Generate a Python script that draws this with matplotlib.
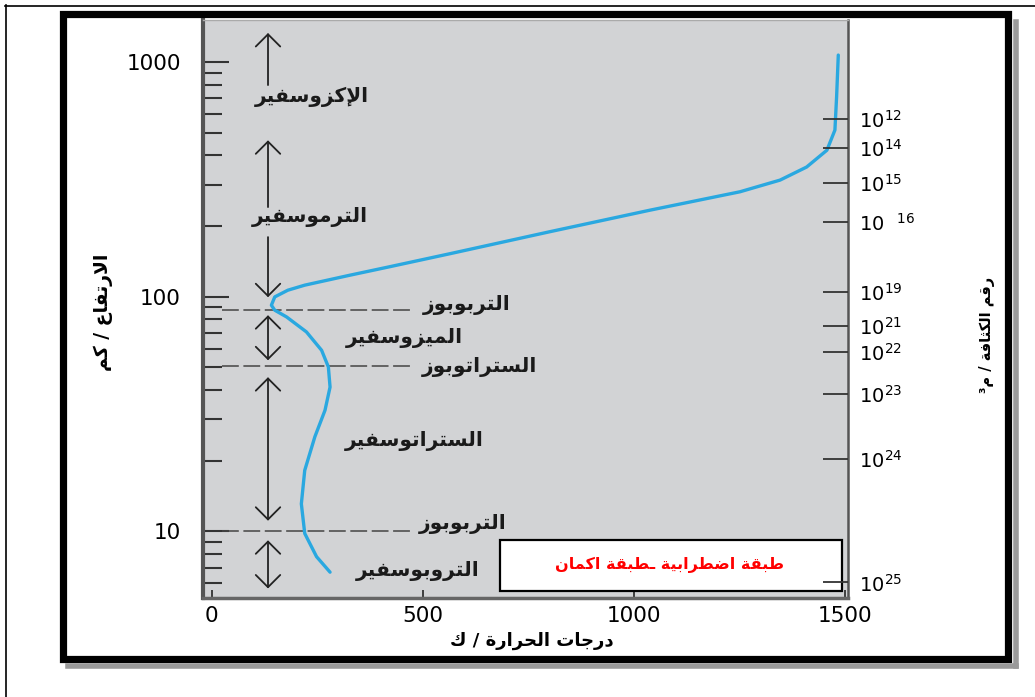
import matplotlib
matplotlib.use("Agg")
import matplotlib.pyplot as plt
from matplotlib.patches import Rectangle
from matplotlib.lines import Line2D
from matplotlib.ticker import NullLocator, FixedLocator

plt.rcParams['font.family'] = ['DejaVu Sans']

# temperature profile (K) vs altitude (km)
alt_km = [6.7, 7.8, 9.8, 13.1, 18.2, 25.3, 32.8, 41.2, 50.2, 59.1, 70.8, 82, 87.6, 92,
          99.8, 106.6, 112, 123.5, 134.3, 152.5, 189.3, 233.8, 280, 314, 357, 421, 513,
          711, 1071]
temp_k = [280, 248, 220, 212, 220, 244, 268, 280, 276, 260, 224, 177, 149, 141,
          149, 180, 220, 327, 422, 564, 801, 1038, 1251, 1346, 1409, 1457, 1476,
          1480, 1484]

# number density scale on the right (altitude where each tick sits)
density_alt = [570, 430, 305, 208, 105, 75, 58, 38.4, 20.3, 6.06]
density_lbl = [r'$10^{12}$', r'$10^{14}$', r'$10^{15}$', r'$10\ \ ^{16}$', r'$10^{19}$',
               r'$10^{21}$', r'$10^{22}$', r'$10^{23}$', r'$10^{24}$', r'$10^{25}$']

# layer boundaries (km) and names
pause_alt = [87.6, 50.5, 10]
pause_names = ['التربوبوز', 'الستراتوبوز', 'التربوبوز']
layer_names = ['الإكزوسفير', 'الترموسفير', 'الميزوسفير', 'الستراتوسفير', 'التروبوسفير']

box_text = 'طبقة اضطرابية ـطبقة اكمان'
xlabel = 'درجات الحرارة / ك'
ylabel = 'الارتفاع / كم'
rlabel = 'رقم الكثافة / م³'

# --- tiny arabic shaper (no bidi lib available) ---
FORMS = {
    'ا': ('\uFE8D', '\uFE8E', None, None), 'إ': ('\uFE87', '\uFE88', None, None),
    'ب': ('\uFE8F', '\uFE90', '\uFE91', '\uFE92'), 'ة': ('\uFE93', '\uFE94', None, None),
    'ت': ('\uFE95', '\uFE96', '\uFE97', '\uFE98'), 'ث': ('\uFE99', '\uFE9A', '\uFE9B', '\uFE9C'),
    'ج': ('\uFE9D', '\uFE9E', '\uFE9F', '\uFEA0'), 'ح': ('\uFEA1', '\uFEA2', '\uFEA3', '\uFEA4'),
    'د': ('\uFEA9', '\uFEAA', None, None), 'ر': ('\uFEAD', '\uFEAE', None, None),
    'ز': ('\uFEAF', '\uFEB0', None, None), 'س': ('\uFEB1', '\uFEB2', '\uFEB3', '\uFEB4'),
    'ض': ('\uFEBD', '\uFEBE', '\uFEBF', '\uFEC0'), 'ط': ('\uFEC1', '\uFEC2', '\uFEC3', '\uFEC4'),
    'ع': ('\uFEC9', '\uFECA', '\uFECB', '\uFECC'), 'ف': ('\uFED1', '\uFED2', '\uFED3', '\uFED4'),
    'ق': ('\uFED5', '\uFED6', '\uFED7', '\uFED8'), 'ك': ('\uFED9', '\uFEDA', '\uFEDB', '\uFEDC'),
    'ل': ('\uFEDD', '\uFEDE', '\uFEDF', '\uFEE0'), 'م': ('\uFEE1', '\uFEE2', '\uFEE3', '\uFEE4'),
    'ن': ('\uFEE5', '\uFEE6', '\uFEE7', '\uFEE8'), 'و': ('\uFEED', '\uFEEE', None, None),
    'ي': ('\uFEF1', '\uFEF2', '\uFEF3', '\uFEF4'), 'ـ': ('\u0640', '\u0640', '\u0640', '\u0640'),
}
LAM_ALEF = {'ا': ('\uFEFB', '\uFEFC'), 'إ': ('\uFEF9', '\uFEFA')}


def shape(s):
    units = []
    i = 0
    while i < len(s):
        if s[i] == 'ل' and i + 1 < len(s) and s[i + 1] in LAM_ALEF:
            units.append(('LA', s[i + 1]))
            i += 2
        else:
            units.append(('C', s[i]))
            i += 1

    def is_ar(u):
        return u[0] == 'LA' or u[1] in FORMS

    def joins_next(u):
        return u[0] == 'C' and u[1] in FORMS and FORMS[u[1]][2] is not None

    out = []
    for k, u in enumerate(units):
        prev = units[k - 1] if k > 0 else None
        nxt = units[k + 1] if k + 1 < len(units) else None
        jp = prev is not None and joins_next(prev) and is_ar(u)
        if u[0] == 'LA':
            out.append(LAM_ALEF[u[1]][1] if jp else LAM_ALEF[u[1]][0])
            continue
        c = u[1]
        if c not in FORMS:
            out.append(c)
            continue
        iso, fin, ini, med = FORMS[c]
        jn = ini is not None and nxt is not None and is_ar(nxt)
        out.append(med if (jp and jn) else fin if jp else ini if jn else iso)
    return ''.join(reversed(out))


W, H = 1035, 697
fig = plt.figure(figsize=(W / 100, H / 100), dpi=100)
fig.patch.set_facecolor('white')


def fx(px):
    return px / W


def fy(py):
    return 1 - py / H


ax = fig.add_axes([fx(203), fy(598), fx(848) - fx(203), fy(20) - fy(598)])
ax.set_facecolor('#d2d3d5')
ax.set_yscale('log')
ax.set_xlim(-21, 1507)
ax.set_ylim(5.2, 1511)

ax.plot(temp_k, alt_km, color='#2aa8e0', lw=2.4, solid_capstyle='round',
        solid_joinstyle='round', zorder=4)

# boundaries
for a in pause_alt:
    ax.plot([25, 470], [a, a], color='#444444', lw=1.1, dashes=(11, 3), zorder=2)

TX = 133
kw = dict(arrowstyle='->,head_length=0.4,head_width=0.4', color='#222222', lw=1.3,
          mutation_scale=22, shrinkA=0, shrinkB=0)
kw2 = dict(kw, arrowstyle='<->,head_length=0.4,head_width=0.4')
ax.annotate('', xy=(TX, 1330), xytext=(TX, 798), arrowprops=kw)
ax.annotate('', xy=(TX, 464), xytext=(TX, 241), arrowprops=kw)
ax.annotate('', xy=(TX, 99.5), xytext=(TX, 179.5), arrowprops=kw)
ax.annotate('', xy=(TX, 83.4), xytext=(TX, 53.6), arrowprops=kw2)
ax.annotate('', xy=(TX, 45.4), xytext=(TX, 11.1), arrowprops=kw2)
ax.annotate('', xy=(TX, 9.16), xytext=(TX, 5.71), arrowprops=kw2)

tkw = dict(fontsize=14.5, fontweight='bold', color='#1a1a1a', ha='center', va='center', zorder=5)
layer_pos = [(237, 710), (232, 218), (457, 67), (479, 24.2), (488, 6.75)]
for name, (t, a) in zip(layer_names, layer_pos):
    ax.text(t, a, shape(name), **tkw)
pause_pos = [(604, 92), (635, 50), (595, 10.8)]
for name, (t, a) in zip(pause_names, pause_pos):
    ax.text(t, a, shape(name), **tkw)

# red note box
ax.add_patch(Rectangle((0.4605, 0.012), 0.530, 0.088, transform=ax.transAxes,
                       facecolor='white', edgecolor='black', lw=1.6, zorder=6))
ax.text(0.724, 0.058, shape(box_text), transform=ax.transAxes, color='red',
        fontsize=11.5, fontweight='bold', ha='center', va='center', zorder=7)

# axes styling
for side, c, w in [('left', '#555555', 3), ('bottom', '#666666', 2.5),
                   ('right', '#555555', 1.8), ('top', '#aaaaaa', 1)]:
    ax.spines[side].set_color(c)
    ax.spines[side].set_linewidth(w)

ax.set_xticks([0, 500, 1000, 1500])
ax.set_xticklabels(['0', '500', '1000', '1500'])
ax.set_yticks([10, 100, 1000])
ax.set_yticklabels(['10', '100', '1000'])
ax.tick_params(axis='y', which='major', direction='in', length=19, width=1.5,
               color='#333333', labelsize=15.5, pad=16)
ax.tick_params(axis='y', which='minor', direction='in', length=14, width=1.5,
               color='#333333')
ax.yaxis.set_minor_locator(FixedLocator([6, 7, 8, 9, 20, 30, 40, 50, 60, 70, 80, 90,
                                         200, 300, 400, 500, 600, 700, 800, 900]))
ax.yaxis.set_minor_formatter(plt.NullFormatter())
ax.tick_params(axis='x', direction='in', length=6, width=1.3, color='#333333',
               labelsize=15.5, pad=6)

ax2 = ax.twinx()
ax2.set_yscale('log')
ax2.set_ylim(ax.get_ylim())
ax2.set_yticks(density_alt)
ax2.set_yticklabels(density_lbl)
ax2.yaxis.set_minor_locator(NullLocator())
ax2.tick_params(axis='y', direction='in', length=18, width=1.3, color='#333333',
                labelsize=14, pad=8)
for s in ax2.spines.values():
    s.set_visible(False)

fig.text(fx(532), fy(641), shape(xlabel), fontsize=13, fontweight='bold',
         ha='center', va='center')
fig.text(fx(103), fy(312), shape(ylabel), fontsize=13.5, fontweight='bold',
         ha='center', va='center', rotation=90)
fig.text(fx(987), fy(335), shape(rlabel), fontsize=10.5, fontweight='bold',
         ha='center', va='center', rotation=90)

# page frame
fig.add_artist(Line2D([fx(1016), fx(1016)], [fy(22), fy(666)], color='#9a9a9a', lw=4))
fig.add_artist(Line2D([fx(68), fx(1016)], [fy(666), fy(666)], color='#9a9a9a', lw=4))
fig.add_artist(Rectangle((fx(62.5), fy(659)), fx(1008) - fx(62.5), fy(13.5) - fy(659),
                         fill=False, edgecolor='black', lw=5.2))
fig.add_artist(Line2D([fx(5.5), fx(5.5)], [fy(5), 0], color='black', lw=1.2))
fig.add_artist(Line2D([fx(5), 1], [fy(5.5), fy(5.5)], color='black', lw=1.2))

fig.savefig('out.png', dpi=100)
